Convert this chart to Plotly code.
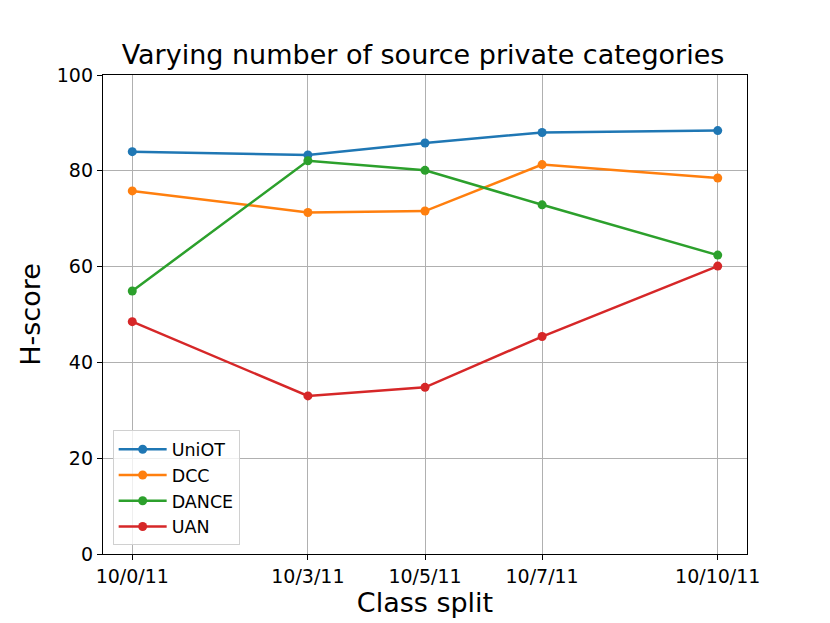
import plotly.graph_objects as go

# class split positions (number of source private categories) and labels
split_pos = [0, 3, 5, 7, 10]
split_labels = ["10/0/11", "10/3/11", "10/5/11", "10/7/11", "10/10/11"]

uniot = [84.0, 83.3, 85.8, 88.0, 88.4]
dcc = [75.8, 71.3, 71.6, 81.3, 78.5]
dance = [54.9, 82.1, 80.1, 72.9, 62.4]
uan = [48.5, 33.0, 34.8, 45.4, 60.1]

series = [
    ("UniOT", uniot, "#1f77b4"),
    ("DCC", dcc, "#ff7f0e"),
    ("DANCE", dance, "#2ca02c"),
    ("UAN", uan, "#d62728"),
]

fig = go.Figure()
for name, vals, color in series:
    fig.add_trace(go.Scatter(
        x=split_pos, y=vals, mode="lines+markers", name=name,
        line=dict(color=color, width=2.5),
        marker=dict(color=color, size=9),
    ))

axis_common = dict(
    showline=True, linecolor="black", linewidth=1.3, mirror=True,
    ticks="outside", ticklen=5, tickcolor="black", tickwidth=1.3,
    showgrid=True, gridcolor="#b0b0b0", gridwidth=1, zeroline=False,
    tickfont=dict(size=19, color="black"),
    automargin=False,
)

fig.update_layout(
    width=830, height=623,
    # page body has an 8px margin, so shift the plot area back by that
    margin=dict(l=95, r=91, t=67, b=77),
    paper_bgcolor="white", plot_bgcolor="white",
    font=dict(family="DejaVu Sans", color="black"),
    title=dict(text="Varying number of source private categories",
               x=0.5, xanchor="center", y=0.925, yanchor="middle",
               font=dict(size=27)),
    xaxis=dict(range=[-0.5, 10.5], tickvals=split_pos, ticktext=split_labels,
               title=dict(text="Class split", font=dict(size=27), standoff=4),
               **axis_common),
    yaxis=dict(range=[0, 100], tickvals=[0, 20, 40, 60, 80, 100],
               title=dict(text="H-score", font=dict(size=27), standoff=8),
               **axis_common),
    legend=dict(x=0.015, y=0.018, xanchor="left", yanchor="bottom",
                bgcolor="rgba(255,255,255,0.8)", bordercolor="#d0d0d0",
                borderwidth=1, font=dict(size=17.5), itemwidth=48,
                tracegroupgap=0),
    showlegend=True,
)

fig.write_html("out.html")
